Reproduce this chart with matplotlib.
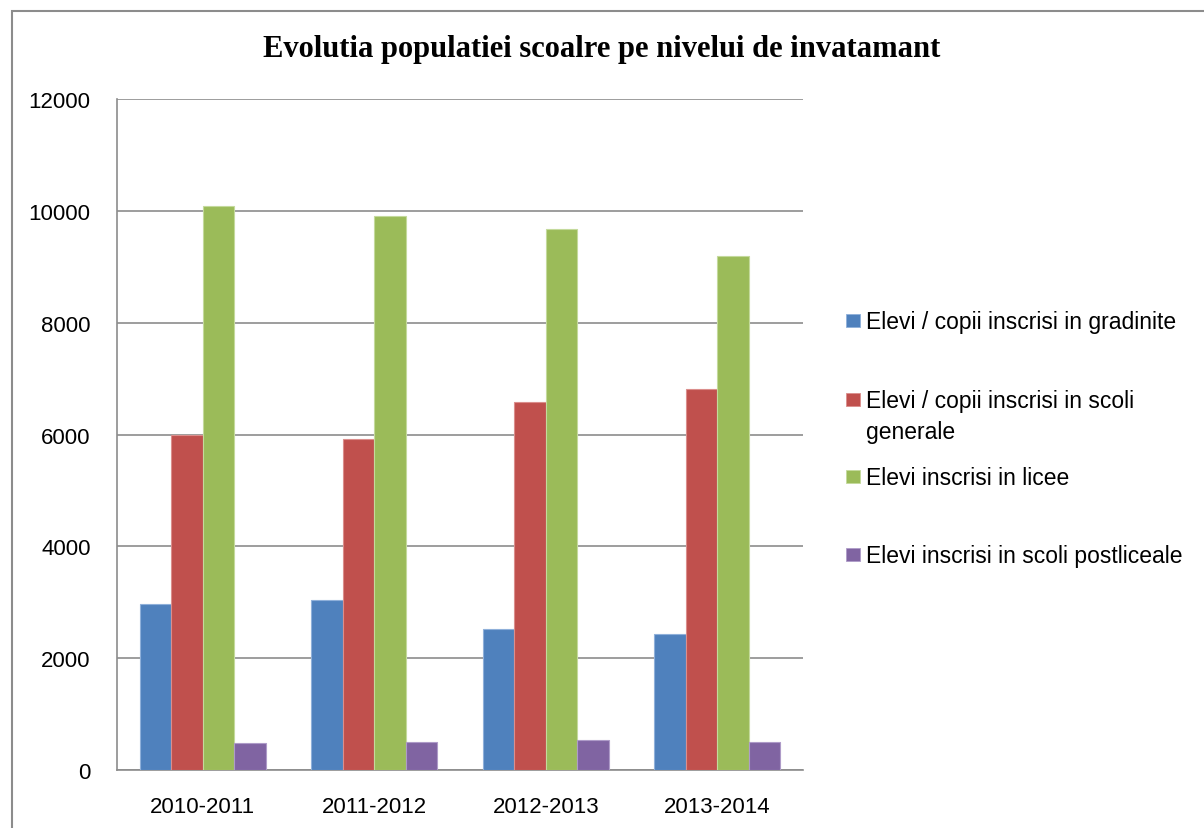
import matplotlib.pyplot as plt
import matplotlib.patches as mpatches
import numpy as np

years = ['2010-2011', '2011-2012', '2012-2013', '2013-2014']
gradinite = [2970, 3040, 2530, 2440]
scoli_generale = [6000, 5920, 6590, 6810]
licee = [10080, 9900, 9680, 9190]
postliceale = [480, 500, 540, 500]

labels = ['Elevi / copii inscrisi in gradinite',
          'Elevi / copii inscrisi in scoli\ngenerale',
          'Elevi inscrisi in licee',
          'Elevi inscrisi in scoli postliceale']
colors = ['#4F81BD', '#C0504D', '#9BBB59', '#8064A2']
edges = ['#8FB0DA', '#DB8E8C', '#C4DA9C', '#AE9BC8']
title = 'Evolutia populatiei scoalre pe nivelui de invatamant'

W, H = 1204, 829
fig = plt.figure(figsize=(W / 100, H / 100), dpi=100)
ax = fig.add_axes([117 / W, 1 - 771 / H, (803 - 117) / W, (771 - 100) / H])

series = [gradinite, scoli_generale, licee, postliceale]
x = np.arange(len(years))
bw = 0.184
for i, vals in enumerate(series):
    ax.bar(x + (i - 1.5) * bw, vals, bw, color=colors[i],
           edgecolor=edges[i], linewidth=0.8, zorder=3)

ax.set_xlim(-0.5, len(years) - 0.5)
ax.set_ylim(0, 12000)
ax.set_yticks(range(0, 12001, 2000))
ax.set_xticks(x)
ax.set_xticklabels(years)
ax.yaxis.grid(True, color='#8C8C8C', linewidth=1.2, zorder=0)
ax.set_axisbelow(True)
for s in ['top', 'right']:
    ax.spines[s].set_visible(False)
for s in ['left', 'bottom']:
    ax.spines[s].set_color('#8C8C8C')
    ax.spines[s].set_linewidth(1.2)
ax.tick_params(axis='both', length=0, labelsize=16, colors='#000000')
ax.tick_params(axis='y', pad=19)
ax.tick_params(axis='x', pad=19)
for t in ax.get_xticklabels() + ax.get_yticklabels():
    t.set_fontfamily('Liberation Sans')

fig.text(0.5, 1 - 49 / H, title, ha='center', va='center',
         fontsize=22, fontweight='bold', family='Liberation Serif')

# legend drawn by hand to follow the Excel spacing
marker_y = [321, 400, 477, 555]
for lab, c, ec, my in zip(labels, colors, edges, marker_y):
    fig.patches.append(mpatches.Rectangle(
        (846 / W, 1 - (my + 7) / H), 13.5 / W, 13.5 / H,
        transform=fig.transFigure, facecolor=c, edgecolor=ec, linewidth=0.6))
    for k, line in enumerate(lab.split('\n')):
        fig.text(866 / W, 1 - (my + 8 + 31 * k) / H, line, ha='left',
                 va='baseline', fontsize=16.5, family='Liberation Sans')

# chart area border
fig.patches.append(mpatches.Rectangle(
    (12 / W, -0.05), 1.1, 1 - 12 / H + 0.05, transform=fig.transFigure,
    fill=False, edgecolor='#8C8C8C', linewidth=1.5))

fig.savefig('out.png', dpi=100)
